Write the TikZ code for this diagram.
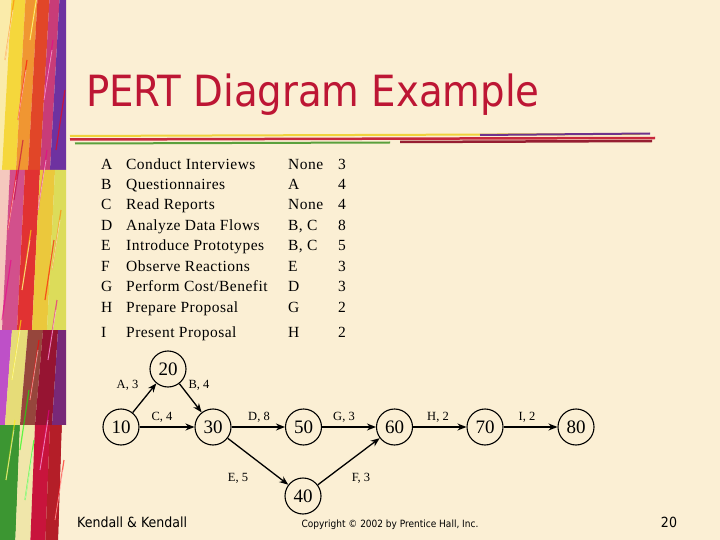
\documentclass[tikz,border=0pt]{standalone}
\usepackage{fontspec}
\setmainfont{Liberation Serif}
\newfontfamily\tah{DejaVu Sans Condensed}
\newfontfamily\tabfont[LetterSpace=3]{Liberation Serif}
\usetikzlibrary{arrows.meta}
\definecolor{bg}{RGB}{251,239,212}
\definecolor{titlered}{RGB}{189,22,52}
\begin{document}
\begin{tikzpicture}[x=1pt,y=-1pt,
  ev/.style={circle,draw,line width=1.1pt,minimum size=36pt,inner sep=0pt,font=\fontsize{19}{19}\selectfont},
  lab/.style={inner sep=0pt,font=\fontsize{12.5}{13}\selectfont},
  tb/.style={anchor=base west,inner sep=0pt,font=\tabfont\fontsize{15.5}{16}\selectfont},
  arr/.style={line width=1.3pt,-{Stealth[length=9pt,width=7pt]}},
  streak/.style={line width=1.2pt,opacity=0.6}]
\useasboundingbox (0,0) rectangle (720,540);
\fill[bg] (0,0) rectangle (720,540);
% left stripe
\begin{scope}
\clip (0,0) rectangle (66,540);
\fill[fill={rgb,255:red,250;green,235;blue,170}] (-10,170) -- (0,-10) -- (12,-10) -- (2,170) -- cycle;
\fill[fill={rgb,255:red,245;green,215;blue,60}] (2,170) -- (12,-10) -- (26,-10) -- (16,170) -- cycle;
\fill[fill={rgb,255:red,240;green,150;blue,50}] (16,170) -- (26,-10) -- (38,-10) -- (28,170) -- cycle;
\fill[fill={rgb,255:red,225;green,70;blue,40}] (28,170) -- (38,-10) -- (50,-10) -- (40,170) -- cycle;
\fill[fill={rgb,255:red,200;green,60;blue,120}] (40,170) -- (50,-10) -- (60,-10) -- (50,170) -- cycle;
\fill[fill={rgb,255:red,110;green,50;blue,160}] (50,170) -- (60,-10) -- (70,-10) -- (70,170) -- cycle;
% middle
\fill[fill={rgb,255:red,245;green,200;blue,190}] (-10,330) -- (-2,170) -- (10,170) -- (2,330) -- cycle;
\fill[fill={rgb,255:red,210;green,80;blue,140}] (2,330) -- (10,170) -- (25,170) -- (17,330) -- cycle;
\fill[fill={rgb,255:red,225;green,50;blue,50}] (17,330) -- (25,170) -- (40,170) -- (32,330) -- cycle;
\fill[fill={rgb,255:red,235;green,200;blue,60}] (32,330) -- (40,170) -- (55,170) -- (47,330) -- cycle;
\fill[fill={rgb,255:red,220;green,220;blue,90}] (47,330) -- (55,170) -- (70,170) -- (70,330) -- cycle;
% lower middle
\fill[fill={rgb,255:red,190;green,80;blue,200}] (-10,425) -- (-5,330) -- (12,330) -- (5,425) -- cycle;
\fill[fill={rgb,255:red,230;green,220;blue,120}] (5,425) -- (12,330) -- (28,330) -- (20,425) -- cycle;
\fill[fill={rgb,255:red,150;green,70;blue,60}] (20,425) -- (28,330) -- (43,330) -- (35,425) -- cycle;
\fill[fill={rgb,255:red,150;green,20;blue,50}] (35,425) -- (43,330) -- (58,330) -- (52,425) -- cycle;
\fill[fill={rgb,255:red,120;green,40;blue,120}] (52,425) -- (58,330) -- (70,330) -- (70,425) -- cycle;
% bottom
\fill[fill={rgb,255:red,60;green,150;blue,50}] (-10,550) -- (-5,425) -- (20,425) -- (15,550) -- cycle;
\fill[fill={rgb,255:red,240;green,230;blue,170}] (15,550) -- (20,425) -- (35,425) -- (30,550) -- cycle;
\fill[fill={rgb,255:red,200;green,20;blue,60}] (30,550) -- (35,425) -- (50,425) -- (45,550) -- cycle;
\fill[fill={rgb,255:red,180;green,30;blue,40}] (45,550) -- (50,425) -- (62,425) -- (58,550) -- cycle;
\fill[bg] (58,550) -- (62,425) -- (70,425) -- (70,550) -- cycle;
\foreach \x/\y/\c in {5/60/orange,18/120/red,30/40/yellow,44/100/magenta,56/150/red,8/230/red,22/290/yellow,38/210/magenta,52/270/orange,14/200/purple,12/380/yellow,30/400/red,48/360/magenta,6/480/yellow,25/500/green,40/470/magenta,55/520/red,20/450/green,45/300/red,2/320/magenta}
  \draw[streak,\c] (\x,\y) -- ++(9,-60);
\foreach \x/\y in {5/60,18/120,30/40,44/100,8/230,22/290,38/210,52/270,12/380,30/400,48/360,6/480,25/500,40/470,55/520}
  \draw[white,opacity=0.5,line width=0.8pt] (\x,\y) -- ++(8,-50);
\end{scope}
% title underline
\draw[line width=2pt,color={rgb,255:red,240;green,210;blue,60}] (70,136) -- (640,134);
\draw[line width=2.5pt,color={rgb,255:red,200;green,40;blue,60}] (70,139.5) -- (655,138);
\draw[line width=2pt,color={rgb,255:red,90;green,160;blue,60}] (75,143.5) -- (390,142.5);
\draw[line width=2pt,color={rgb,255:red,110;green,50;blue,140}] (480,135) -- (650,133.5);
\draw[line width=2.5pt,color={rgb,255:red,150;green,30;blue,50}] (400,142) -- (652,141);
% title
\node[anchor=base west,inner sep=0pt,text=titlered,font=\tah\fontsize{43}{43}\selectfont] (title) at (86,107) {PERT Diagram Example};
% table
\foreach \i/\y/\l/\n/\p/\d in {1/165/A/{Conduct Interviews}/None/3,2/185/B/{Questionnaires}/A/4,3/205/C/{Read Reports}/None/4,4/225/D/{Analyze Data Flows}/{B, C}/8,5/245/E/{Introduce Prototypes}/{B, C}/5,6/266/F/{Observe Reactions}/E/3,7/286/G/{Perform Cost/Benefit}/D/3,8/307/H/{Prepare Proposal}/G/2,9/332/I/{Present Proposal}/H/2}{
  \node[tb] (l\i) at (101,\y+5) {\l};
  \node[tb] (n\i) at (126,\y+5) {\n};
  \node[tb] (p\i) at (288,\y+5) {\p};
  \node[tb] (d\i) at (338,\y+5) {\d};
}
% events
\node[ev] (e10) at (121,427) {10};
\node[ev] (e20) at (168,369) {20};
\node[ev] (e30) at (213,427) {30};
\node[ev] (e50) at (303.5,427) {50};
\node[ev] (e40) at (303,496) {40};
\node[ev] (e60) at (394.5,427) {60};
\node[ev] (e70) at (485,427) {70};
\node[ev] (e80) at (576,427) {80};
\draw[arr] (e10) -- (e20);
\draw[arr] (e20) -- (e30);
\draw[arr] (e10) -- (e30);
\draw[arr] (e30) -- (e50);
\draw[arr] (e30) -- (e40);
\draw[arr] (e50) -- (e60);
\draw[arr] (e40) -- (e60);
\draw[arr] (e60) -- (e70);
\draw[arr] (e70) -- (e80);
\node[lab] (la) at (127.5,385) {A, 3};
\node[lab] (lb) at (199,385) {B, 4};
\node[lab] (lc) at (162,417) {C, 4};
\node[lab] (ld) at (259,417) {D, 8};
\node[lab] (lg) at (344,417) {G, 3};
\node[lab] (le) at (238,478) {E, 5};
\node[lab] (lf) at (361,478) {F, 3};
\node[lab] (lh) at (438,417) {H, 2};
\node[lab] (li) at (527,417) {I, 2};
% footer
\node[anchor=base west,inner sep=0pt,font=\tah\fontsize{14}{15}\selectfont] (f1) at (77,527) {Kendall \& Kendall};
\node[anchor=base,inner sep=0pt,font=\tah\fontsize{10}{11}\selectfont] (f2) at (390,527) {Copyright © 2002 by Prentice Hall, Inc.};
\node[anchor=base,inner sep=0pt,font=\tah\fontsize{14}{15}\selectfont] (f3) at (669,527) {20};
\end{tikzpicture}
\end{document}
